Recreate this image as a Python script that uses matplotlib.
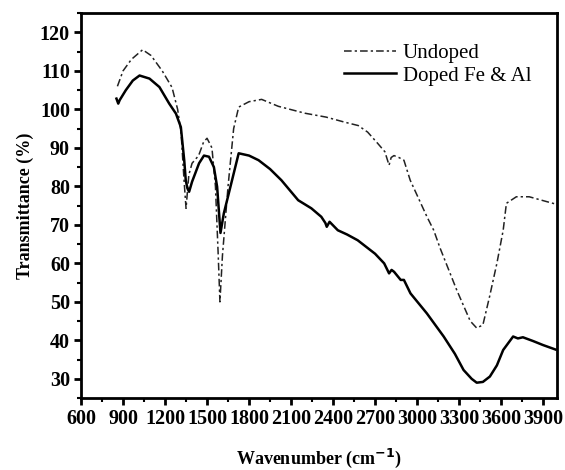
import numpy as np
import matplotlib
matplotlib.use("Agg")
import matplotlib.pyplot as plt
from matplotlib.ticker import MultipleLocator

# FTIR spectra
undoped_x = [860, 900, 960, 1040, 1100, 1180, 1250, 1290, 1315, 1335, 1350,
             1370, 1393, 1440, 1475, 1500, 1535, 1560, 1580, 1592, 1610, 1650,
             1690, 1726, 1800, 1890, 2009, 2200, 2350, 2481, 2580, 2647, 2718,
             2770, 2800, 2815, 2835, 2870, 2906, 2951, 3072, 3119, 3164, 3284,
             3380, 3426, 3470, 3518, 3570, 3615, 3638, 3709, 3801, 3900, 3990]
undoped_y = [106, 110, 113, 115.5, 114, 110, 105.7, 100, 93.8, 82, 74.3,
             83, 86, 88, 91.5, 92.5, 90, 80, 62, 50, 62, 80,
             95, 100.6, 102, 102.6, 100.8, 99, 98, 96.7, 95.8, 94.1, 91.2,
             89, 85.5, 87.5, 88, 87.5, 86.8, 81.6, 72, 68.6, 64, 53,
             45, 43.2, 44, 51.4, 60, 68.6, 75.6, 77.3, 77.3, 76.3, 75.4]

doped_x = [853, 866, 876, 920, 970, 1018, 1089, 1160, 1230, 1278, 1313,
           1337, 1348, 1360, 1372, 1393, 1443, 1478, 1514, 1549, 1572, 1596,
           1620, 1667, 1726, 1800, 1868, 1950, 2031, 2151, 2245, 2316, 2345,
           2355, 2375, 2434, 2500, 2576, 2700, 2765, 2800, 2818, 2836, 2883,
           2906, 2953, 3070, 3190, 3270, 3332, 3390, 3426, 3470, 3520, 3570,
           3615, 3686, 3720, 3756, 3830, 3898, 3990]
doped_y = [102.8, 101.5, 102.4, 105, 107.5, 108.8, 108, 105.8, 101.5, 98.9, 95.4,
           86.8, 81.6, 79.5, 78.6, 81.2, 86, 88, 87.7, 85, 79.9, 67.9,
           73, 79.9, 88.6, 88, 86.8, 84.5, 81.6, 76.4, 74.3, 72.1, 70.5,
           69.5, 70.8, 68.6, 67.5, 66, 62.5, 60, 57.4, 58.3, 57.8, 55.7,
           55.7, 52.2, 47, 41, 36.5, 32.3, 30, 29, 29.2, 30.6, 33.5,
           37.5, 41, 40.5, 40.8, 39.8, 38.8, 37.6]

plt.rcParams['font.family'] = ['Liberation Serif', 'DejaVu Serif']

fig = plt.figure(figsize=(5.65, 4.7), dpi=100)
ax = fig.add_axes([0.1434, 0.153, 0.8426, 0.819])

ax.plot(undoped_x, undoped_y, color='#222222', lw=1.1,
        dashes=(5, 2, 1.5, 2), label='Undoped')
ax.plot(doped_x, doped_y, color='black', lw=1.8, label='Doped Fe & Al')

ax.set_xlim(600, 4000)
ax.set_ylim(25, 125)
ax.xaxis.set_major_locator(MultipleLocator(300))
ax.xaxis.set_minor_locator(MultipleLocator(150))
ax.yaxis.set_major_locator(MultipleLocator(10))
ax.yaxis.set_minor_locator(MultipleLocator(5))
ax.set_yticks(np.arange(30, 121, 10))

for s in ax.spines.values():
    s.set_linewidth(2)
ax.tick_params(which='major', direction='out', length=5, width=2,
               labelsize=14.5, pad=3)
ax.tick_params(which='minor', direction='out', length=3, width=1.5)
for lbl in ax.get_xticklabels() + ax.get_yticklabels():
    lbl.set_fontweight('bold')

ax.set_xlabel('Wavenumber (cm$^{\\mathbf{-1}}$)', fontsize=13,
              fontweight='bold', labelpad=13)
ax.set_ylabel('Transmittance (%)', fontsize=13, fontweight='bold',
              labelpad=4)

leg = ax.legend(loc='upper right', bbox_to_anchor=(0.985, 0.97), frameon=False,
                fontsize=15, handlelength=2.5, handletextpad=0.3,
                labelspacing=0.15)

fig.savefig('out.png', dpi=100)
